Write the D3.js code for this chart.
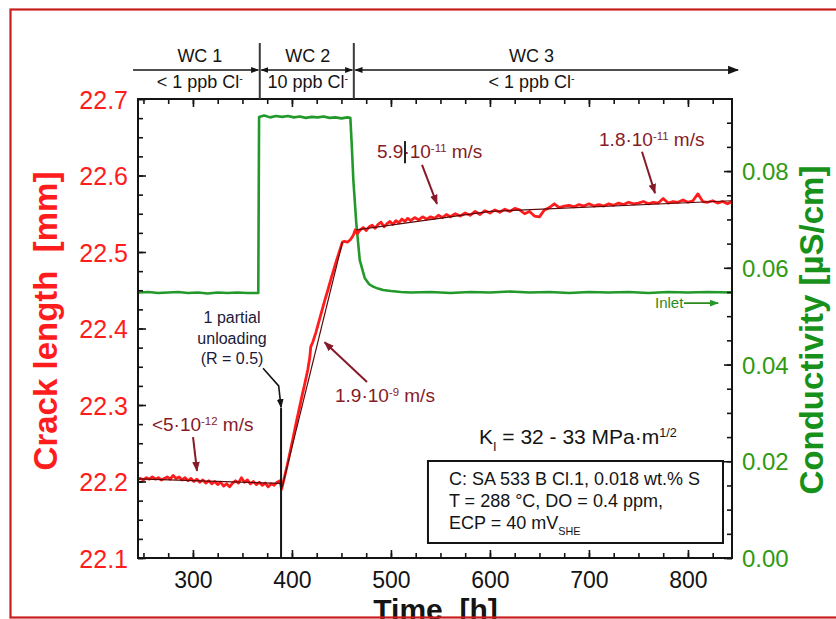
<!DOCTYPE html>
<html>
<head>
<meta charset="utf-8">
<script src="https://cdn.jsdelivr.net/npm/d3@7"></script>
<style>
  html, body { margin: 0; padding: 0; background: #fff; }
  svg { display: block; font-family: "Liberation Sans", Arial, Helvetica, sans-serif; }
</style>
</head>
<body>
<svg id="chart" width="836" height="619"></svg>
<script>
// ---------------- data ----------------
const timeTicks  = [300, 400, 500, 600, 700, 800];
const crackTicks = [22.1, 22.2, 22.3, 22.4, 22.5, 22.6, 22.7];
const condTicks  = [0, 0.02, 0.04, 0.06, 0.08];

// crack length [mm] versus time [h]
const crackTime = [
  244.5, 247, 250, 253, 256, 259, 262, 265, 268, 271, 274, 277, 280, 283, 286, 289, 292, 295, 298,
  301, 304, 307, 310, 313, 316, 319, 322, 325, 328, 331, 334, 337, 340, 343, 346, 349, 352, 355,
  358, 361, 364, 367, 370, 373, 376, 379, 382, 385, 388, 389.5,
  392, 395, 398, 401, 404, 407, 410, 413, 416, 418, 419, 421, 424, 427, 430, 433, 436, 439, 442,
  445, 448, 451, 453, 456, 459,
  462, 464, 466, 469, 472, 475, 478, 481, 484, 487, 490, 493, 496, 499, 502, 505, 508, 511, 514,
  517, 520, 524, 528, 532, 536, 540, 544, 548, 552, 556, 560, 565, 570, 575, 580, 585, 590, 595,
  600, 605, 610, 615, 620, 625, 630, 635, 640, 645, 650, 655, 660, 665, 670, 675, 680, 685, 690,
  695, 700, 705, 710, 715, 720, 725, 730, 735, 740, 745, 750, 755, 760, 765, 770, 775, 780, 785,
  790, 795, 800, 805, 810, 815, 820, 825, 830, 835, 840, 844.5
];
const crackMm = [
  22.203, 22.204, 22.202, 22.205, 22.203, 22.206, 22.203, 22.205, 22.202, 22.204, 22.206, 22.203, 22.208, 22.204, 22.206, 22.202, 22.205, 22.201, 22.204,
  22.200, 22.203, 22.199, 22.202, 22.198, 22.201, 22.197, 22.200, 22.196, 22.199, 22.194, 22.197, 22.193, 22.198, 22.201, 22.198, 22.205, 22.199, 22.202,
  22.197, 22.200, 22.196, 22.199, 22.195, 22.198, 22.193, 22.197, 22.195, 22.199, 22.201, 22.190,
  22.203, 22.220, 22.238, 22.256, 22.275, 22.293, 22.311, 22.328, 22.346, 22.362, 22.376, 22.382, 22.394, 22.408, 22.422, 22.436, 22.449, 22.463, 22.476,
  22.489, 22.501, 22.513, 22.514, 22.513, 22.516,
  22.522, 22.529, 22.524, 22.529, 22.532, 22.528, 22.533, 22.535, 22.531, 22.536, 22.539, 22.533, 22.537, 22.540, 22.536, 22.541, 22.538, 22.543, 22.540,
  22.544, 22.541, 22.545, 22.542, 22.546, 22.543, 22.546, 22.544, 22.548, 22.545, 22.549, 22.546, 22.550, 22.547, 22.551, 22.548, 22.553, 22.549, 22.554,
  22.551, 22.555, 22.552, 22.556, 22.553, 22.557, 22.555, 22.550, 22.553, 22.547, 22.546, 22.555, 22.558, 22.563, 22.558, 22.560, 22.561, 22.559, 22.562,
  22.560, 22.563, 22.560, 22.562, 22.560, 22.563, 22.561, 22.564, 22.562, 22.565, 22.563, 22.564, 22.566, 22.563, 22.565, 22.564, 22.570, 22.564, 22.566,
  22.565, 22.568, 22.565, 22.567, 22.576, 22.566, 22.565, 22.567, 22.564, 22.566, 22.563, 22.566
];

// conductivity [µS/cm] versus time [h]
const condTime = [
  244.5, 255, 265, 275, 285, 295, 305, 315, 325, 335, 345, 355, 366,
  366.8, 372, 378, 384, 390, 396, 402, 408, 414, 420, 426, 432, 438, 444, 450, 456, 459,
  460.5, 462, 465, 468.5, 473.5, 478, 482, 487, 492, 500, 510,
  520, 540, 560, 580, 600, 620, 640, 660, 680, 700, 720, 740, 760, 780, 800, 820, 844.5
];
const condValue = [
  0.0549, 0.0550, 0.0548, 0.0549, 0.0550, 0.0548, 0.0549, 0.0547, 0.0549, 0.0548, 0.0549, 0.0548, 0.0548,
  0.0912, 0.0915, 0.0911, 0.0914, 0.0912, 0.0914, 0.0911, 0.0913, 0.0910, 0.0912, 0.0911, 0.0913, 0.0910, 0.0911, 0.0909, 0.0911, 0.0910,
  0.0850, 0.0782, 0.0692, 0.0616, 0.0579, 0.0566, 0.0561, 0.0557, 0.0554, 0.0552, 0.0550,
  0.0549, 0.0550, 0.0548, 0.0550, 0.0549, 0.0551, 0.0549, 0.0550, 0.0548, 0.0550, 0.0549, 0.0550, 0.0548, 0.0550, 0.0549, 0.0550, 0.0549
];

// linear fits through the crack-length record (start/end)
const fitTime = [[244.5, 389.5], [390, 451], [465, 600], [600, 844.5]];
const fitMm   = [[22.2035, 22.1975], [22.192, 22.513], [22.529, 22.553], [22.553, 22.567]];

// water-chemistry phases
const phaseNames    = ["WC 1", "WC 2", "WC 3"];
const phaseChloride = ["< 1 ppb Cl", "10 ppb Cl", "< 1 ppb Cl"];
const phaseSwitch   = [367.5, 462.5];
const phaseLabelAt  = [307, 416, 642];

const unloadTime = 389;

// ---------------- layout ----------------
const svg = d3.select("#chart");
const x  = d3.scaleLinear().domain([244.5, 844.5]).range([138, 732]);
const yL = d3.scaleLinear().domain([22.1, 22.7]).range([558, 99]);
const yR = d3.scaleLinear().domain([0, 0.0949]).range([558, 99]);

const RED = "#ff1c1c", GREEN = "#22992a", MAROON = "#861a28", INK = "#141414";
const LBL_GREEN = "#2f9a12", TITLE_GREEN = "#17911a";

// arrowhead markers
const defs = svg.append("defs");
function marker(id, color, size) {
  defs.append("marker")
    .attr("id", id).attr("viewBox", "0 0 10 10")
    .attr("refX", 9).attr("refY", 5)
    .attr("markerWidth", size).attr("markerHeight", size)
    .attr("markerUnits", "userSpaceOnUse")
    .attr("orient", "auto-start-reverse")
    .append("path").attr("d", "M0,1.2 L10,5 L0,8.8 Z").attr("fill", color);
}
marker("ahMaroon", MAROON, 10);
marker("ahBlack", INK, 9);
marker("ahSmall", INK, 8);
marker("ahBig", INK, 11);
marker("ahGreen", GREEN, 9);

// rich text with superscripts / subscripts
function rich(sel, parts, size) {
  parts.forEach(([s, k]) => {
    const t = sel.append("tspan").text(s);
    if (k === "sup") t.attr("baseline-shift", "super").attr("font-size", size * 0.6);
    if (k === "sub") t.attr("baseline-shift", "sub").attr("font-size", size * 0.6);
  });
  return sel;
}

// ---------------- series ----------------
const plot = svg.append("g");

const condLine = d3.line().x((d, i) => x(condTime[i])).y(d => yR(d));
plot.append("path").datum(condValue)
  .attr("d", condLine).attr("fill", "none")
  .attr("stroke", GREEN).attr("stroke-width", 2.6).attr("stroke-linejoin", "round");

const crackLine = d3.line().x((d, i) => x(crackTime[i])).y(d => yL(d));
plot.append("path").datum(crackMm)
  .attr("d", crackLine).attr("fill", "none")
  .attr("stroke", RED).attr("stroke-width", 2.8).attr("stroke-linejoin", "round");

fitTime.forEach((tt, i) => {
  plot.append("line")
    .attr("x1", x(tt[0])).attr("y1", yL(fitMm[i][0]))
    .attr("x2", x(tt[1])).attr("y2", yL(fitMm[i][1]))
    .attr("stroke", "#5a0a0a").attr("stroke-width", 1.2);
});

// ---------------- axes ----------------
function styleAxis(g) {
  g.select(".domain").remove();
  g.selectAll(".tick line").attr("stroke", INK).attr("stroke-width", 1.6);
  g.attr("font-family", null).attr("font-size", null);
}

// left: crack length
svg.append("g").attr("transform", "translate(138,0)")
  .call(d3.axisLeft(yL).tickValues(d3.range(22.1, 22.7001, 0.025)).tickSize(-5).tickFormat(""))
  .call(styleAxis);
svg.append("g").attr("transform", "translate(138,0)")
  .call(d3.axisLeft(yL).tickValues(crackTicks).tickSize(-8).tickPadding(10).tickFormat(d3.format(".1f")))
  .call(styleAxis)
  .selectAll("text").attr("fill", RED).attr("font-size", 25).attr("dy", "0.36em");

// right: conductivity
svg.append("g").attr("transform", "translate(732,0)")
  .call(d3.axisRight(yR).tickValues(d3.range(0, 0.0901, 0.005)).tickSize(-5).tickFormat(""))
  .call(styleAxis);
svg.append("g").attr("transform", "translate(732,0)")
  .call(d3.axisRight(yR).tickValues(condTicks).tickSize(-8).tickPadding(10).tickFormat(d3.format(".2f")))
  .call(styleAxis)
  .selectAll("text").attr("fill", LBL_GREEN).attr("font-size", 24).attr("dy", "0.36em");

// bottom / top: time
svg.append("g").attr("transform", "translate(0,558)")
  .call(d3.axisBottom(x).tickValues(d3.range(250, 844, 25)).tickSize(-5).tickFormat(""))
  .call(styleAxis);
svg.append("g").attr("transform", "translate(0,558)")
  .call(d3.axisBottom(x).tickValues(timeTicks).tickSize(-8).tickPadding(14).tickFormat(d3.format("d")))
  .call(styleAxis)
  .selectAll("text").attr("fill", INK).attr("font-size", 23);
svg.append("g").attr("transform", "translate(0,99)")
  .call(d3.axisTop(x).tickValues(d3.range(250, 844, 25)).tickSize(-5).tickFormat(""))
  .call(styleAxis);
svg.append("g").attr("transform", "translate(0,99)")
  .call(d3.axisTop(x).tickValues(timeTicks).tickSize(-8).tickFormat(""))
  .call(styleAxis);

// frame
svg.append("rect").attr("x", 138).attr("y", 99).attr("width", 594).attr("height", 459)
  .attr("fill", "none").attr("stroke", INK).attr("stroke-width", 2);

// axis titles
svg.append("text").attr("transform", "translate(57,321) rotate(-90)")
  .attr("text-anchor", "middle").attr("font-weight", "bold").attr("font-size", 33)
  .attr("fill", RED).attr("xml:space", "preserve").text("Crack length  [mm]");
svg.append("text").attr("transform", "translate(823,330) rotate(-90)")
  .attr("text-anchor", "middle").attr("font-weight", "bold").attr("font-size", 33)
  .attr("fill", TITLE_GREEN).text("Conductivity [µS/cm]");
svg.append("text").attr("x", x(545)).attr("y", 620)
  .attr("text-anchor", "middle").attr("font-weight", "bold").attr("font-size", 30)
  .attr("fill", INK).attr("xml:space", "preserve").text("Time  [h]");

// ---------------- water-chemistry header ----------------
const head = svg.append("g");
const headY = 70, headStart = 239.5, headEnd = 850.5;
const bounds = [headStart, ...phaseSwitch, headEnd];
phaseSwitch.forEach(t => {
  head.append("line").attr("x1", x(t)).attr("x2", x(t)).attr("y1", 43).attr("y2", 99)
    .attr("stroke", "#3a3a3a").attr("stroke-width", 2);
});
phaseNames.forEach((n, i) => {
  const a = x(bounds[i]) + (i === 0 ? 0 : 1.5);
  const b = x(bounds[i + 1]) - (i === 2 ? 0 : 1.5);
  const ln = head.append("line").attr("x1", a).attr("x2", b).attr("y1", headY).attr("y2", headY)
    .attr("stroke", INK).attr("stroke-width", 1.6)
    .attr("marker-end", i === 2 ? "url(#ahBig)" : "url(#ahSmall)");
  if (i > 0) ln.attr("marker-start", "url(#ahSmall)");
  head.append("text").attr("x", x(phaseLabelAt[i])).attr("y", 61.5)
    .attr("text-anchor", "middle").attr("font-size", 18).attr("fill", INK).text(n);
  rich(head.append("text").attr("x", x(phaseLabelAt[i])).attr("y", 88)
    .attr("text-anchor", "middle").attr("font-size", 18).attr("fill", INK),
    [[phaseChloride[i], ""], ["-", "sup"]], 18);
});

// ---------------- annotations ----------------
const ann = svg.append("g");

// growth-rate labels with pointer arrows (time, crack length)
const rates = [
  { at: [258.6, 22.266], parts: [["<5·10", ""], ["-12", "sup"], [" m/s", ""]], from: [300.1, 22.258], to: [304.1, 22.214] },
  { at: [443.5, 22.304], parts: [["1.9·10", ""], ["-9", "sup"], [" m/s", ""]], from: [475.8, 22.330], to: [433.0, 22.382] },
  { at: [485.9, 22.623], parts: [["5.9·10", ""], ["-11", "sup"], [" m/s", ""]], from: [531.4, 22.614], to: [546.5, 22.563] },
  { at: [710.2, 22.639], parts: [["1.8·10", ""], ["-11", "sup"], [" m/s", ""]], from: [753.6, 22.631], to: [766.7, 22.577] }
];
rates.forEach(r => {
  rich(ann.append("text").attr("x", x(r.at[0])).attr("y", yL(r.at[1]))
    .attr("font-size", 19).attr("fill", MAROON), r.parts, 19);
  ann.append("line")
    .attr("x1", x(r.from[0])).attr("y1", yL(r.from[1]))
    .attr("x2", x(r.to[0])).attr("y2", yL(r.to[1]))
    .attr("stroke", MAROON).attr("stroke-width", 2).attr("marker-end", "url(#ahMaroon)");
});
// small stray tick beside the 5.9 label
ann.append("line").attr("x1", x(514.2)).attr("x2", x(514.2))
  .attr("y1", yL(22.645)).attr("y2", yL(22.616)).attr("stroke", "#222").attr("stroke-width", 2);

// partial unloading marker
const unloadLines = ["1 partial", "unloading", "(R = 0.5)"];
const unloadBase = [22.407, 22.380, 22.354];
unloadLines.forEach((s, i) => {
  ann.append("text").attr("x", x(339.5)).attr("y", yL(unloadBase[i]))
    .attr("text-anchor", "middle").attr("font-size", 16).attr("fill", "#1a1a3a").text(s);
});
ann.append("path")
  .attr("d", d3.line()([[x(370.8), yL(22.348)], [x(386.6), yL(22.325)], [x(unloadTime), yL(22.297)]]))
  .attr("fill", "none").attr("stroke", INK).attr("stroke-width", 1.6).attr("marker-end", "url(#ahBlack)");
ann.append("line").attr("x1", x(unloadTime)).attr("x2", x(unloadTime))
  .attr("y1", yL(22.296)).attr("y2", yL(22.1))
  .attr("stroke", INK).attr("stroke-width", 2);

// stress intensity
rich(ann.append("text").attr("x", x(588.9)).attr("y", yL(22.249))
  .attr("font-size", 21).attr("fill", INK),
  [["K", ""], ["I", "sub"], [" = 32 - 33 MPa·m", ""], ["1/2", "sup"]], 21);

// test conditions box
ann.append("rect")
  .attr("x", x(537.4)).attr("y", yL(22.2268))
  .attr("width", x(835.4) - x(537.4)).attr("height", yL(22.1196) - yL(22.2268))
  .attr("fill", "#fff").attr("stroke", INK).attr("stroke-width", 2);
const boxLines = [
  [["C: SA 533 B Cl.1, 0.018 wt.% S", ""]],
  [["T = 288 °C, DO = 0.4 ppm,", ""]],
  [["ECP = 40 mV", ""], ["SHE", "sub"]]
];
const boxBase = [22.1954, 22.1667, 22.1379];
boxLines.forEach((p, i) => {
  rich(ann.append("text").attr("x", x(558.6)).attr("y", yL(boxBase[i]))
    .attr("font-size", 18).attr("fill", INK), p, 18);
});

// inlet marker on the conductivity trace
ann.append("text").attr("x", x(766.7)).attr("y", yR(0.0516))
  .attr("font-size", 15).attr("fill", "#2c8a1c").text("Inlet");
ann.append("line").attr("x1", x(796)).attr("x2", x(830.5))
  .attr("y1", yR(0.0527)).attr("y2", yR(0.0527))
  .attr("stroke", "#2c8a1c").attr("stroke-width", 1.6).attr("marker-end", "url(#ahGreen)");

// outer frame
svg.append("rect").attr("x", 10.5).attr("y", 9.5).attr("width", 840).attr("height", 608)
  .attr("fill", "none").attr("stroke", "#c81e1e").attr("stroke-width", 2.2);
</script>
</body>
</html>
